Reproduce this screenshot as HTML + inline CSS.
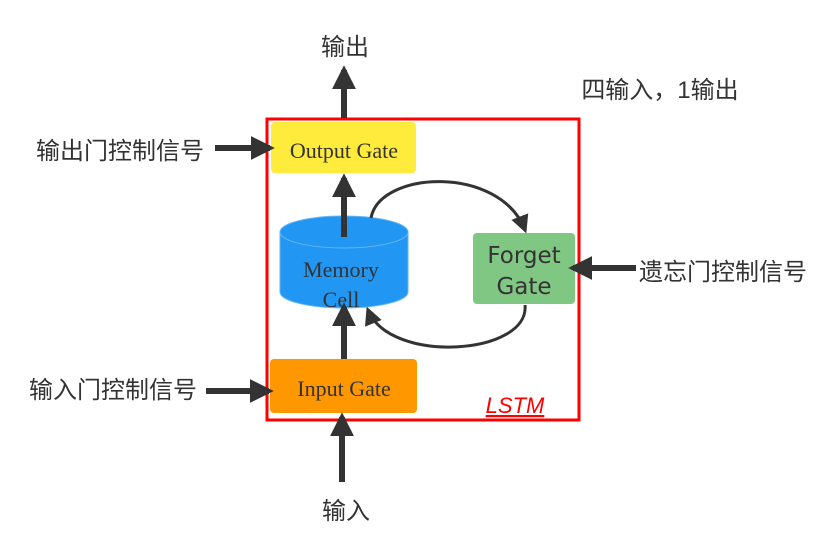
<!DOCTYPE html>
<html><head><meta charset="utf-8"><style>
body{margin:0;background:#fff;width:836px;height:551px;overflow:hidden}
</style></head><body>
<svg width="836" height="551" viewBox="0 0 836 551" xmlns="http://www.w3.org/2000/svg">
<defs>
<marker id="a" viewBox="0 0 10 10" refX="8" refY="5" markerWidth="4" markerHeight="4" orient="auto"><path d="M0,0 L10,5 L0,10 z" fill="#333"/></marker>
<marker id="b" viewBox="0 0 10 10" refX="8" refY="5" markerWidth="6" markerHeight="6" orient="auto"><path d="M0,0 L10,5 L0,10 z" fill="#333"/></marker>
</defs>
<g font-family="'Liberation Sans','Noto Sans CJK SC',sans-serif" fill="#333" font-size="24">
<text x="345" y="55" text-anchor="middle">输出</text>
<text x="660" y="98" text-anchor="middle">四输入，1输出</text>
<text x="120" y="159" text-anchor="middle">输出门控制信号</text>
<text x="723" y="280" text-anchor="middle">遗忘门控制信号</text>
<text x="113" y="398" text-anchor="middle">输入门控制信号</text>
<text x="346" y="519" text-anchor="middle">输入</text>
</g>
<rect x="267" y="119" width="312" height="301" fill="none" stroke="#f00" stroke-width="3"/>
<rect x="271" y="122" width="145" height="51" rx="4" fill="#ffeb3b"/>
<rect x="473" y="233" width="102" height="71" rx="4" fill="#81c784"/>
<rect x="270" y="359" width="147" height="54" rx="4" fill="#ff9800"/>
<path d="M280,232 L280,292 A64,16 0 0 0 408,292 L408,232" fill="#2196f3" stroke="#64b5f6" stroke-width="1"/>
<ellipse cx="344" cy="232" rx="64" ry="16" fill="#2196f3" stroke="#64b5f6" stroke-width="1"/>
<g font-family="'Liberation Serif',serif" fill="#333" font-size="22" text-anchor="middle">
<text x="344" y="158">Output Gate</text>
<text x="341" y="277">Memory</text>
<text x="341" y="307">Cell</text>
<text x="344" y="396">Input Gate</text>
</g>
<g font-family="'DejaVu Sans',sans-serif" fill="#333" font-size="23" text-anchor="middle">
<text x="524" y="263">Forget</text>
<text x="524" y="294">Gate</text>
</g>
<text x="515" y="413" font-family="'Liberation Sans',sans-serif" font-style="italic" font-size="22" fill="#f00" text-anchor="middle" text-decoration="underline">LSTM</text>
<g stroke="#333" stroke-width="6" fill="none" marker-end="url(#a)">
<line x1="344" y1="118" x2="344" y2="70"/>
<line x1="215" y1="148" x2="270" y2="148"/>
<line x1="206" y1="391" x2="269" y2="391"/>
<line x1="636" y1="268" x2="573" y2="268"/>
<line x1="342" y1="482" x2="342" y2="417"/>
<line x1="344" y1="237" x2="344" y2="178"/>
<line x1="344" y1="359" x2="344" y2="307"/>
</g>
<g stroke="#333" stroke-width="3" fill="none" marker-end="url(#b)">
<path d="M371,218 C380,170 500,165 525,230"/>
<path d="M525,305 C530,355 390,365 368,310"/>
</g>
</svg>
</body></html>
